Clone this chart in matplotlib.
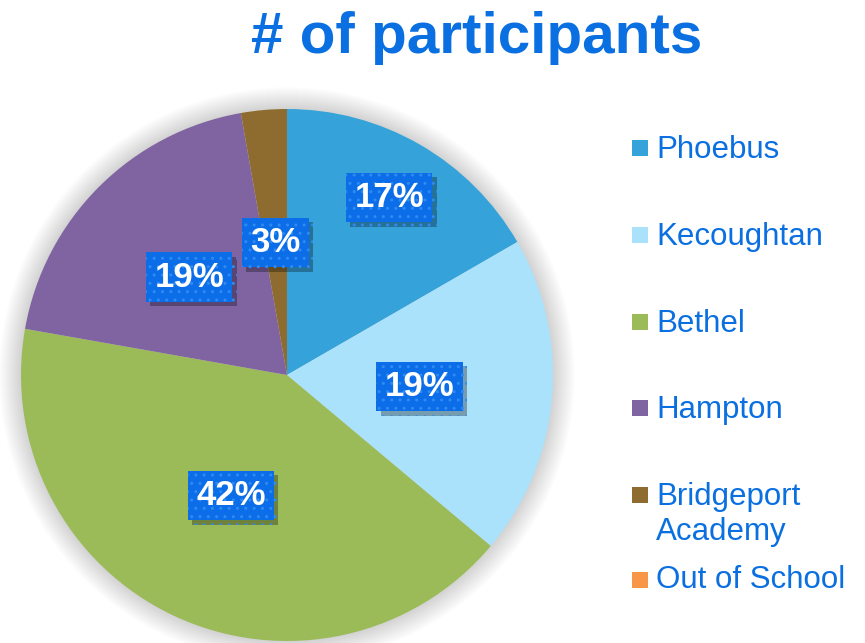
import matplotlib
matplotlib.use("Agg")
import matplotlib.pyplot as plt
import matplotlib.patheffects as pe
from matplotlib.patches import Circle, Rectangle
import numpy as np

# ---- data ----
categories = ["Phoebus", "Kecoughtan", "Bethel", "Hampton", "Bridgeport Academy", "Out of School"]
legend_labels = ["Phoebus", "Kecoughtan", "Bethel", "Hampton", "Bridgeport\nAcademy", "Out of School"]
participants = [6, 7, 15, 7, 1, 0]
colors = ["#35A3DA", "#AAE2FC", "#9BBB59", "#8064A2", "#8E6C30", "#F79646"]
title = "# of participants"

# ---- style / layout ----
W, H = 865, 643
text_blue = "#0A6FE0"
box_blue = "#0B6EE8"
plt.rcParams['font.family'] = ['Liberation Sans', 'DejaVu Sans']

fig = plt.figure(figsize=(W / 100, H / 100), dpi=100)
ax = fig.add_axes([0, 0, 1, 1])

cx, cy, R = 287, H - 375, 266

# soft shadow around the pie
for k in range(22, 0, -1):
    ax.add_patch(Circle((cx, cy), R + k, facecolor='black', edgecolor='none', alpha=0.008, zorder=0))

wedges, _ = ax.pie(participants, colors=colors, startangle=90, counterclock=False,
                   center=(cx, cy), radius=R, frame=True,
                   wedgeprops=dict(linewidth=0))
ax.set_xlim(0, W)
ax.set_ylim(0, H)
ax.set_aspect('equal')
ax.axis('off')

# data labels
total = sum(participants)
label_dist = [0.77, 0.50, 0.50, 0.52, 0.50, 0.5]
for w, v, d in zip(wedges, participants, label_dist):
    if v == 0:
        continue
    mid = np.deg2rad((w.theta1 + w.theta2) / 2)
    x = cx + d * R * np.cos(mid)
    y = cy + d * R * np.sin(mid)
    t = ax.text(x, y, f"{round(100 * v / total)}%", ha='center', va='center',
                fontsize=25, fontweight='bold', color='white', zorder=5,
                bbox=dict(boxstyle='square,pad=0.24', facecolor=box_blue,
                          edgecolor='#2F8AF2', linewidth=0, hatch='..'))
    t.get_bbox_patch().set_path_effects([
        pe.SimplePatchShadow(offset=(3, -3), shadow_rgbFace='black', alpha=0.3),
        pe.Normal()])

# title
ax.text(477, H - 53, title, ha='center', va='baseline', fontsize=42,
        fontweight='bold', color=text_blue)

# legend (baseline of last text line, marker centre at first line)
baselines = [158, 245, 332, 418, 540, 588]
marker_centres = [148, 235, 322, 408, 495, 580]
for lab, col, b, m in zip(legend_labels, colors, baselines, marker_centres):
    ax.add_patch(Rectangle((632, H - m - 8), 16, 16, facecolor=col, edgecolor='none'))
    ax.text(656, H - b, lab, ha='left', va='baseline', fontsize=22.5,
            color=text_blue, linespacing=1.2)

fig.savefig("out.png", dpi=100, facecolor='white')
